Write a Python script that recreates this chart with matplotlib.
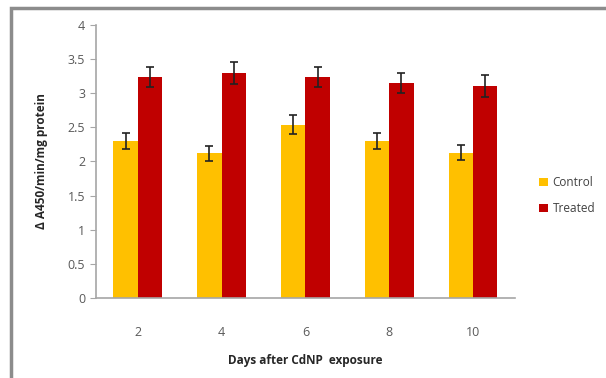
import matplotlib.pyplot as plt
import numpy as np
from matplotlib.patches import Rectangle

days = ['2', '4', '6', '8', '10']
control = [2.30, 2.12, 2.54, 2.30, 2.13]
control_err = [0.12, 0.11, 0.14, 0.12, 0.11]
treated = [3.24, 3.29, 3.24, 3.15, 3.10]
treated_err = [0.15, 0.16, 0.15, 0.15, 0.16]

plt.rcParams['font.family'] = ['Open Sans', 'DejaVu Sans']

fig = plt.figure(figsize=(6.06, 3.78), dpi=100)
ax = fig.add_axes([0.158, 0.212, 0.692, 0.722])

x = np.arange(len(days))
w = 0.29
ax.bar(x - w/2, control, w, color='#FFC000', label='Control',
       yerr=control_err, capsize=3, error_kw=dict(ecolor='#222222', elinewidth=1.2, capthick=1.2))
ax.bar(x + w/2, treated, w, color='#C00000', label='Treated',
       yerr=treated_err, capsize=3, error_kw=dict(ecolor='#222222', elinewidth=1.2, capthick=1.2))

ax.set_xlim(-0.5, 4.5)
ax.set_ylim(0, 4)
ax.set_yticks(np.arange(0, 4.01, 0.5))
ax.set_yticklabels(['0', '0.5', '1', '1.5', '2', '2.5', '3', '3.5', '4'])
ax.set_xticks(x)
ax.set_xticklabels(days)
for s in ['top', 'right']:
    ax.spines[s].set_visible(False)
for s in ['left', 'bottom']:
    ax.spines[s].set_color('#a6a6a6')
    ax.spines[s].set_linewidth(1.2)
ax.tick_params(axis='y', colors='#a6a6a6', labelcolor='#595959', labelsize=9, length=4)
ax.tick_params(axis='x', length=0, labelcolor='#595959', labelsize=9, pad=20)

ax.set_ylabel('Δ A450/min/mg protein', fontsize=8.5, fontweight='bold', color='#262626', labelpad=14)
ax.set_xlabel('Days after CdNP  exposure', fontsize=8.5, fontweight='bold', color='#262626', labelpad=11)

ax.legend(loc='center left', bbox_to_anchor=(1.058, 0.375), frameon=False, fontsize=8.5,
          handlelength=0.7, handleheight=0.7, labelspacing=1.1, handletextpad=0.4,
          labelcolor='#404040', borderpad=0, borderaxespad=0)

fig.patches.append(Rectangle((11/606, -0.1), 1.0, 1 - 8/378 + 0.1, transform=fig.transFigure,
                             fill=False, edgecolor='#8c8c8c', linewidth=2.5))

fig.savefig('out.png', dpi=100)
